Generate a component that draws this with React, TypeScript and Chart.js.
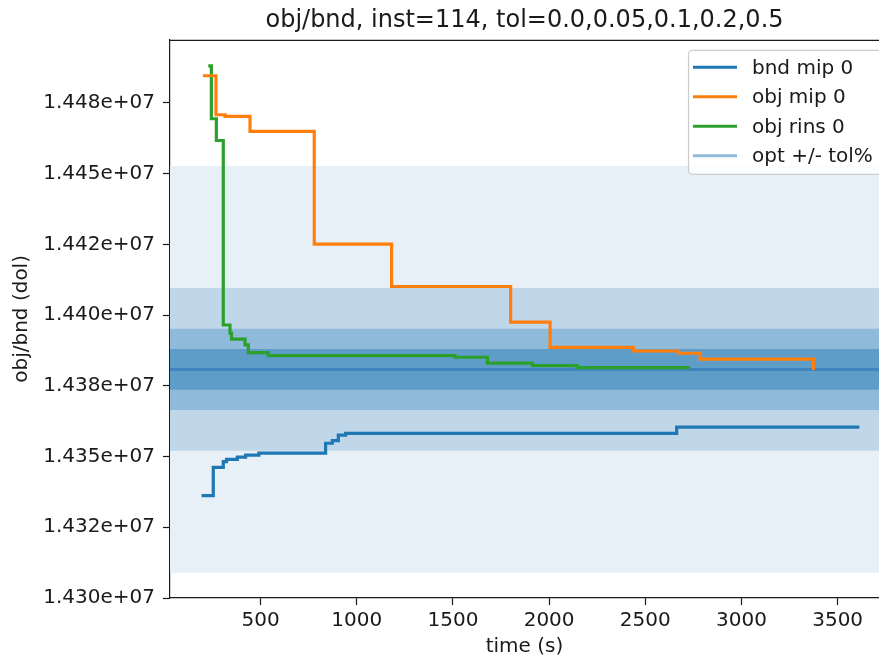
import React, { useEffect, useRef } from 'react';
import { Chart, registerables } from 'chart.js';

Chart.register(...registerables);

const TITLE = 'obj/bnd, inst=114, tol=0.0,0.05,0.1,0.2,0.5';
const X_LABEL = 'time (s)';
const Y_LABEL = 'obj/bnd (dol)';

const X_MIN = 29;
const X_MAX = 3715;
const Y_MIN = 14300000;
const Y_MAX = 14497300;

const X_TICKS = [500, 1000, 1500, 2000, 2500, 3000, 3500];
const Y_TICKS = [14300000, 14325000, 14350000, 14375000, 14400000, 14425000, 14450000, 14475000];
const Y_TICK_LABELS = ['1.430e+07', '1.432e+07', '1.435e+07', '1.438e+07', '1.440e+07', '1.442e+07', '1.445e+07', '1.448e+07'];

// bnd mip 0
const BND_MIP_T = [193, 254, 306, 323, 379, 422, 491, 838, 873, 904, 942, 2663, 3613];
const BND_MIP_V = [14336200, 14346200, 14348200, 14349000, 14349800, 14350500, 14351200, 14354700, 14355600, 14357600, 14358200, 14360400, 14360400];

// obj mip 0
const OBJ_MIP_T = [200, 268, 315, 445, 779, 1181, 1800, 2005, 2438, 2672, 2785, 3374];
const OBJ_MIP_V = [14484600, 14470800, 14470200, 14464900, 14425100, 14410100, 14397500, 14388600, 14387300, 14386500, 14384400, 14380600];

// obj rins 0
const OBJ_RINS_T = [228, 244, 270, 306, 341, 349, 419, 436, 540, 1511, 1679, 1913, 2147, 2733];
const OBJ_RINS_V = [14488100, 14469400, 14461700, 14396500, 14393600, 14391500, 14389500, 14386700, 14385700, 14385100, 14383000, 14382100, 14381400, 14381400];

const OPT = 14380800;
const TOLS = [0.0, 0.05, 0.1, 0.2, 0.5];

const SERIES_LABELS = ['bnd mip 0', 'obj mip 0', 'obj rins 0'];
const SERIES_COLORS = ['#1f77b4', '#ff7f0e', '#2ca02c'];
const OPT_LABEL = 'opt +/- tol%';
const OPT_LEGEND_COLOR = '#8ebbdd';
const BAND_COLORS = ['#3f84bd', '#5f9dc9', '#8fbad9', '#c0d7ea', '#e7eff7'];

const FONT = 'DejaVu Sans';
const TEXT = '#1a1a1a';

const toPts = (t: number[], v: number[]) => t.map((x, i) => ({ x, y: v[i] }));

const framePlugin = {
  id: 'mplFrame',
  afterDraw(chart: any) {
    const { ctx, chartArea: a } = chart;
    ctx.save();
    ctx.strokeStyle = TEXT;
    ctx.lineWidth = 1.2;
    ctx.beginPath();
    ctx.moveTo(a.left, a.top + 0.5);
    ctx.lineTo(a.right, a.top + 0.5);
    ctx.stroke();

    // legend
    const entries = [
      ...SERIES_LABELS.map((l, i) => ({ label: l, color: SERIES_COLORS[i] })),
      { label: OPT_LABEL, color: OPT_LEGEND_COLOR },
    ];
    const bx = a.right - 191;
    const by = a.top + 10;
    const bw = 201;
    const bh = 124;
    ctx.beginPath();
    (ctx as any).roundRect(bx + 0.5, by + 0.5, bw, bh, 4);
    ctx.fillStyle = 'rgba(255,255,255,0.8)';
    ctx.fill();
    ctx.strokeStyle = '#cccccc';
    ctx.lineWidth = 1.2;
    ctx.stroke();
    ctx.font = `20px "${FONT}"`;
    ctx.textBaseline = 'middle';
    ctx.textAlign = 'left';
    entries.forEach((e, i) => {
      const y = by + 17.5 + i * 29.5;
      ctx.strokeStyle = e.color;
      ctx.lineWidth = 3;
      ctx.beginPath();
      ctx.moveTo(bx + 5, y);
      ctx.lineTo(bx + 49, y);
      ctx.stroke();
      ctx.fillStyle = TEXT;
      ctx.fillText(e.label, bx + 64, y + 1);
    });
    ctx.restore();
  },
};

export default function App() {
  const ref = useRef<HTMLCanvasElement | null>(null);

  useEffect(() => {
    if (!ref.current) return;
    const seriesT = [BND_MIP_T, OBJ_MIP_T, OBJ_RINS_T];
    const seriesV = [BND_MIP_V, OBJ_MIP_V, OBJ_RINS_V];
    const lineSets = SERIES_LABELS.map((label, i) => ({
      label,
      data: toPts(seriesT[i], seriesV[i]),
      borderColor: SERIES_COLORS[i],
      backgroundColor: SERIES_COLORS[i],
      borderWidth: 3.2,
      stepped: 'before' as const,
      pointRadius: 0,
      fill: false,
      order: i,
    }));
    const bandSets = TOLS.map((tol, i) =>
      tol === 0
        ? {
            label: OPT_LABEL,
            data: [{ x: X_MIN, y: OPT }, { x: X_MAX, y: OPT }],
            borderColor: BAND_COLORS[0],
            borderWidth: 3,
            pointRadius: 0,
            fill: false,
            order: 3,
          }
        : {
            label: '',
            data: [
              { x: X_MIN, y: OPT * (1 + tol / 100) },
              { x: X_MAX, y: OPT * (1 + tol / 100) },
            ],
            borderColor: 'transparent',
            borderWidth: 0,
            backgroundColor: BAND_COLORS[i],
            fill: { value: OPT * (1 - tol / 100) },
            pointRadius: 0,
            order: 3 + i,
          }
    );

    const chart = new Chart(ref.current, {
      type: 'line',
      data: { datasets: [...lineSets, ...bandSets] as any },
      options: {
        responsive: false,
        animation: false,
        layout: { padding: 0 },
        plugins: {
          legend: { display: false },
          tooltip: { enabled: false },
          title: {
            display: true,
            text: TITLE,
            fullSize: false,
            color: TEXT,
            font: { family: FONT, size: 24, weight: 'normal' },
            padding: { top: 6, bottom: 5 },
          },
        },
        scales: {
          x: {
            type: 'linear',
            min: X_MIN,
            max: X_MAX,
            afterBuildTicks: (s: any) => {
              s.ticks = X_TICKS.map((v) => ({ value: v }));
            },
            afterFit: (s: any) => {
              s.height = 61;
            },
            ticks: {
              color: TEXT,
              font: { family: FONT, size: 20 },
              padding: 4,
              maxRotation: 0,
              autoSkip: false,
              callback: (v: any) => String(v),
            },
            grid: {
              display: true,
              drawOnChartArea: false,
              drawTicks: true,
              tickLength: 7,
              tickWidth: 1.2,
              tickColor: TEXT,
            },
            border: { display: true, color: TEXT, width: 1.2 },
            title: {
              display: true,
              text: X_LABEL,
              color: TEXT,
              font: { family: FONT, size: 20 },
              padding: { top: 0, bottom: 0 },
            },
          },
          y: {
            type: 'linear',
            min: Y_MIN,
            max: Y_MAX,
            afterBuildTicks: (s: any) => {
              s.ticks = Y_TICKS.map((v) => ({ value: v }));
            },
            afterFit: (s: any) => {
              s.width = 170;
            },
            ticks: {
              color: TEXT,
              font: { family: FONT, size: 20 },
              padding: 8,
              autoSkip: false,
              callback: (_v: any, i: number) => Y_TICK_LABELS[i],
            },
            grid: {
              display: true,
              drawOnChartArea: false,
              drawTicks: true,
              tickLength: 7,
              tickWidth: 1.2,
              tickColor: TEXT,
            },
            border: { display: true, color: TEXT, width: 1.2 },
            title: {
              display: true,
              text: Y_LABEL,
              color: TEXT,
              font: { family: FONT, size: 20 },
              padding: { top: 10, bottom: 0 },
            },
          },
        },
      },
      plugins: [framePlugin],
    });
    return () => chart.destroy();
  }, []);

  return (
    <div style={{ position: 'fixed', left: 0, top: 0, width: 879, height: 659, background: '#fff' }}>
      <canvas ref={ref} width={879} height={659} style={{ display: 'block' }} />
    </div>
  );
}
